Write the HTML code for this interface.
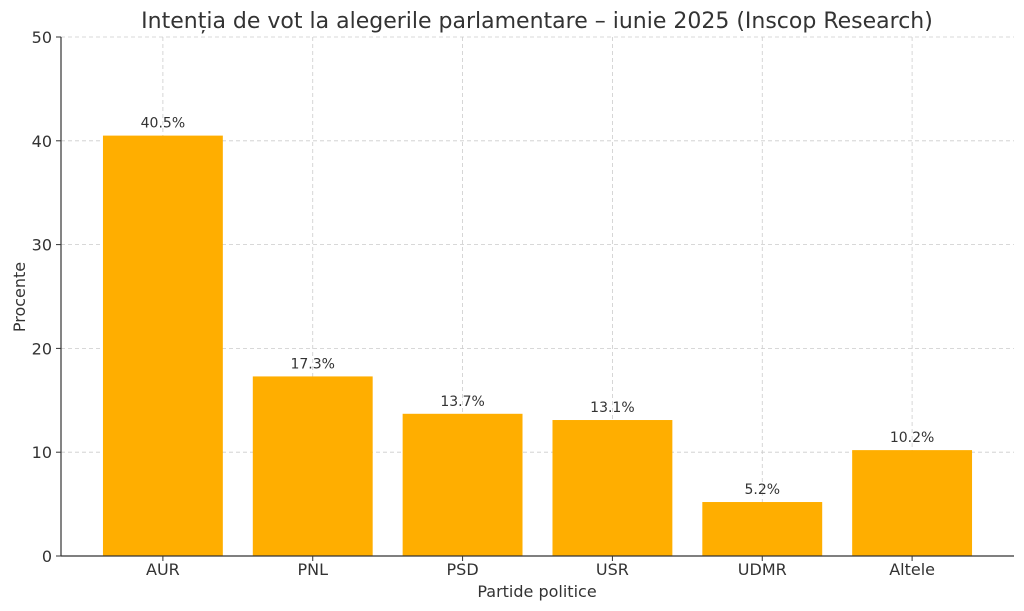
<!DOCTYPE html>
<html><head><meta charset="utf-8">
<style>
html,body{margin:0;padding:0;background:#fff;}
svg{display:block;font-family:"DejaVu Sans","Liberation Sans",sans-serif;}
</style></head>
<body>
<svg id="chart" width="1024" height="611" viewBox="0 0 1024 611" xmlns="http://www.w3.org/2000/svg">
<text x="537" y="28" text-anchor="middle" font-size="22" fill="#333">Intenția de vot la alegerile parlamentare – iunie 2025 (Inscop Research)</text>
<g id="grid"></g>
<g id="bars"></g>
<g id="axes"></g>
<text x="537" y="597" text-anchor="middle" font-size="16" fill="#333">Partide politice</text>
<text transform="translate(25,297) rotate(-90)" text-anchor="middle" font-size="16" fill="#333">Procente</text>
</svg>
<script>
const categories = ["AUR","PNL","PSD","USR","UDMR","Altele"];
const values = [40.5,17.3,13.7,13.1,5.2,10.2];
const valueLabels = ["40.5%","17.3%","13.7%","13.1%","5.2%","10.2%"];
const yTicks = [0,10,20,30,40,50];

const NS="http://www.w3.org/2000/svg";
const L=61,R=1014,T=37,B=556;
const yMax=50;
const xMin=-0.68,xMax=5.68;
function y(v){return B-(v/yMax)*(B-T);}
function x(i){return L+(i-xMin)/(xMax-xMin)*(R-L);}
const unit=(R-L)/(xMax-xMin);
function mk(tag,attrs,parent){const e=document.createElementNS(NS,tag);for(const k in attrs)e.setAttribute(k,attrs[k]);parent.appendChild(e);return e;}
const grid=document.getElementById('grid'),bars=document.getElementById('bars'),axes=document.getElementById('axes');

yTicks.forEach(t=>{
  const gl=mk('line',{x1:L,x2:R,y1:y(t),y2:y(t),stroke:'#ccc','stroke-dasharray':'4,3','stroke-width':0.8},grid);
  
  
  mk('line',{x1:L-5,x2:L,y1:y(t),y2:y(t),stroke:'#333','stroke-width':1},axes);
  const tl=mk('text',{x:L-9,y:y(t)+6,'text-anchor':'end','font-size':16,fill:'#333'},axes);
  tl.textContent=t;
  
  
});
categories.forEach((c,i)=>{
  const gl=mk('line',{x1:x(i),x2:x(i),y1:T,y2:B,stroke:'#ccc','stroke-dasharray':'4,3','stroke-width':0.8},grid);
  
  
  const w=0.8*unit;
  const r=mk('rect',{x:x(i)-w/2,y:y(values[i]),width:w,height:B-y(values[i]),fill:'#ffae00'},bars);
  
  
  const vl=mk('text',{x:x(i),y:y(values[i])-8,'text-anchor':'middle','font-size':14,fill:'#333'},bars);
  vl.textContent=valueLabels[i];
  
  
  mk('line',{x1:x(i),x2:x(i),y1:B,y2:B+5,stroke:'#333','stroke-width':1},axes);
  const xl=mk('text',{x:x(i),y:B+19,'text-anchor':'middle','font-size':16,fill:'#333'},axes);
  xl.textContent=c;
  
  
});
mk('line',{x1:L,x2:L,y1:T,y2:B,stroke:'#333','stroke-width':1.2},axes);
mk('line',{x1:L,x2:R,y1:B,y2:B,stroke:'#333','stroke-width':1.2},axes);
</script>
</body></html>
